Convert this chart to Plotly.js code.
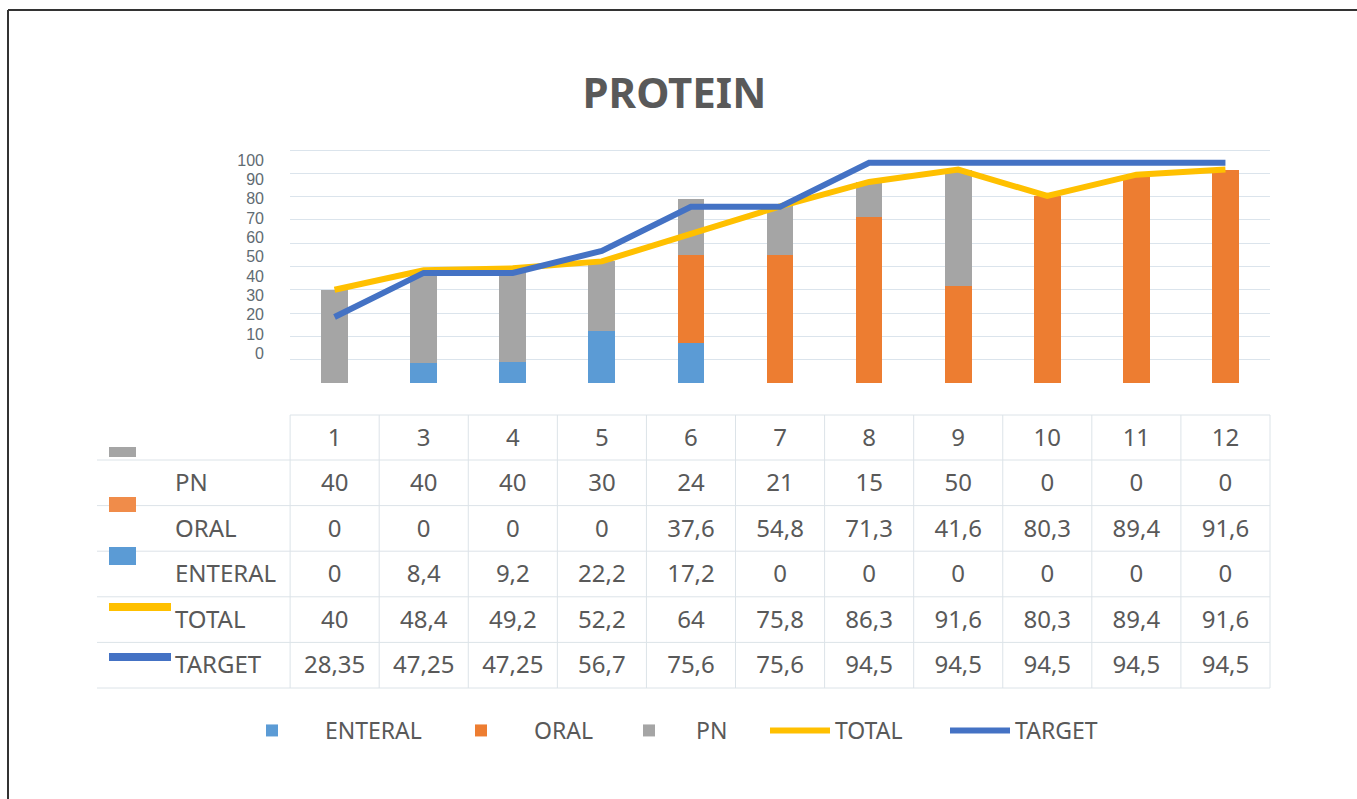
<!DOCTYPE html>
<html>
<head>
<meta charset="utf-8">
<script src="https://cdn.plot.ly/plotly-3.0.1.min.js"></script>
<style>html,body{margin:0;padding:0;background:#fff;}#chart{width:1357px;height:799px;}</style>
</head>
<body>
<div id="chart"></div>
<script>
// ---- data ----
const days = ['1', '3', '4', '5', '6', '7', '8', '9', '10', '11', '12'];
const pn = [40, 40, 40, 30, 24, 21, 15, 50, 0, 0, 0];
const oral = [0, 0, 0, 0, 37.6, 54.8, 71.3, 41.6, 80.3, 89.4, 91.6];
const enteral = [0, 8.4, 9.2, 22.2, 17.2, 0, 0, 0, 0, 0, 0];
const total = [40, 48.4, 49.2, 52.2, 64, 75.8, 86.3, 91.6, 80.3, 89.4, 91.6];
const target = [28.35, 47.25, 47.25, 56.7, 75.6, 75.6, 94.5, 94.5, 94.5, 94.5, 94.5];
const rowLabels = ['PN', 'ORAL', 'ENTERAL', 'TOTAL', 'TARGET'];
const yTicks = [0, 10, 20, 30, 40, 50, 60, 70, 80, 90, 100];

// ---- geometry helpers (pixel -> paper) ----
const ML = 97, MR = 87, MT = 140, MB = 99;
const PW = 1357 - ML - MR, PH = 799 - MT - MB;
const px = x => (x - ML) / PW;
const py = y => (799 - MB - y) / PH;

const cGray = '#a5a5a5', cOrange = '#ed7d31', cBlue = '#5b9bd5', cYellow = '#ffc000', cNavy = '#4472c4';
const txt = '#595959';
const gridC = '#dce3e8';
const fmt = v => String(v).replace('.', ',');
const NB = '\u00a0';

// data-table geometry
const tabX0 = 167, tabX1 = 1270, tabY0 = 415, headH = 45, rowH = 45.6;
const colW = [123].concat(days.map(() => 89));
const textShift = 5;

const traces = [
  {type: 'bar', name: NB.repeat(3) + 'ENTERAL', x: days, y: enteral, marker: {color: cBlue}, width: 0.3, legendwidth: 134},
  {type: 'bar', name: NB.repeat(3) + 'ORAL', x: days, y: oral, marker: {color: cOrange}, width: 0.3, legendwidth: 93},
  {type: 'bar', name: NB.repeat(2) + 'PN', x: days, y: pn, marker: {color: cGray}, width: 0.3, legendwidth: 76},
  {type: 'scatter', mode: 'lines', name: 'TOTAL', x: days, y: total, line: {color: cYellow, width: 6}, legendwidth: 105},
  {type: 'scatter', mode: 'lines', name: 'TARGET', x: days, y: target, line: {color: cNavy, width: 6}, legendwidth: 110},
  {type: 'scatter', x: [], y: [], yaxis: 'y2', showlegend: false, hoverinfo: 'skip'},
  {
    type: 'table',
    domain: {x: [px(tabX0), px(tabX1)], y: [py(tabY0 + headH + 5 * rowH + textShift + 2), py(tabY0 + textShift)]},
    columnwidth: colW,
    header: {
      values: [''].concat(days),
      height: headH,
      align: 'center',
      fill: {color: 'rgba(0,0,0,0)'},
      line: {color: 'rgba(0,0,0,0)', width: 0},
      font: {family: 'Noto Sans', size: 24, color: txt}
    },
    cells: {
      values: [rowLabels].concat(days.map((d, i) => [pn[i], oral[i], enteral[i], total[i], target[i]].map(fmt))),
      height: rowH,
      align: ['left'].concat(days.map(() => 'center')),
      fill: {color: 'rgba(0,0,0,0)'},
      line: {color: 'rgba(0,0,0,0)', width: 0},
      font: {family: 'Noto Sans', size: 24, color: txt}
    }
  }
];

const shapes = [];
const pline = (x0, y0, x1, y1, c, w) => ({type: 'line', xref: 'paper', yref: 'paper', x0: px(x0), x1: px(x1), y0: py(y0), y1: py(y1), line: {color: c, width: w}});
// outer border (top and left edges)
shapes.push(pline(8, 10, 1360, 10, '#333', 2));
shapes.push(pline(8, 10, 8, 802, '#333', 2));
// data table grid
const tabBottom = tabY0 + headH + 5 * rowH;
const scale = (tabX1 - tabX0) / colW.reduce((a, b) => a + b, 0);
let cx = tabX0;
colW.forEach(w => {
  cx += w * scale;
  shapes.push(pline(cx, tabY0, cx, tabBottom, gridC, 1));
});
shapes.push(pline(tabX0 + colW[0] * scale, tabY0, tabX1, tabY0, gridC, 1));
for (let r = 0; r <= 5; r++) {
  const y = tabY0 + headH + r * rowH;
  shapes.push(pline(97, y, tabX1, y, gridC, 1));
}
// legend keys inside the data table
const keyRect = (y0, y1, c) => ({type: 'rect', xref: 'paper', yref: 'paper', x0: px(109), x1: px(136), y0: py(y0), y1: py(y1), fillcolor: c, line: {width: 0}});
shapes.push(keyRect(447, 457, cGray));
shapes.push(keyRect(497, 512, '#f08c4a'));
shapes.push(keyRect(547, 565, cBlue));
shapes.push(pline(109, 607, 171, 607, cYellow, 8));
shapes.push(pline(109, 657, 171, 657, cNavy, 8));

const yTop = 150 - 0.5 * (383 - 150) / 100;

const layout = {
  width: 1357, height: 799,
  margin: {l: ML, r: MR, t: MT, b: MB, pad: 0},
  paper_bgcolor: '#fff', plot_bgcolor: 'rgba(0,0,0,0)',
  font: {family: 'Noto Sans', color: txt},
  title: {text: '<b>PROTEIN</b>', x: 0.497, xref: 'container', y: 1 - 93 / 799, yref: 'container', yanchor: 'middle', xanchor: 'center', font: {family: 'Noto Sans', size: 42, color: txt}},
  barmode: 'stack',
  showlegend: true,
  legend: {orientation: 'h', x: px(237), xanchor: 'left', y: py(709), yanchor: 'top', traceorder: 'normal', itemwidth: 60, font: {family: 'Noto Sans', size: 23, color: txt}, bgcolor: 'rgba(0,0,0,0)'},
  xaxis: {type: 'category', domain: [px(290), px(1270)], anchor: 'y', showticklabels: false, ticks: '', showgrid: false, zeroline: false, showline: false, range: [-0.5, 10.5], fixedrange: true},
  yaxis: {domain: [py(383), py(yTop)], range: [0, 100.5], tickvals: yTicks.slice(1), showticklabels: false, ticks: '', gridcolor: '#dbe4ec', gridwidth: 1, zeroline: false, showline: false},
  yaxis2: {overlaying: 'y', side: 'left', anchor: 'x', range: [-15.4, 105.8], tickvals: yTicks, ticktext: yTicks.map(String), showgrid: false, zeroline: false, showline: false, ticks: '', ticklabelstandoff: 25, tickfont: {family: 'Liberation Sans', size: 16, color: '#5f6b72'}},
  shapes: shapes
};

Plotly.newPlot('chart', traces, layout, {displayModeBar: false, staticPlot: true});
</script>
</body>
</html>
